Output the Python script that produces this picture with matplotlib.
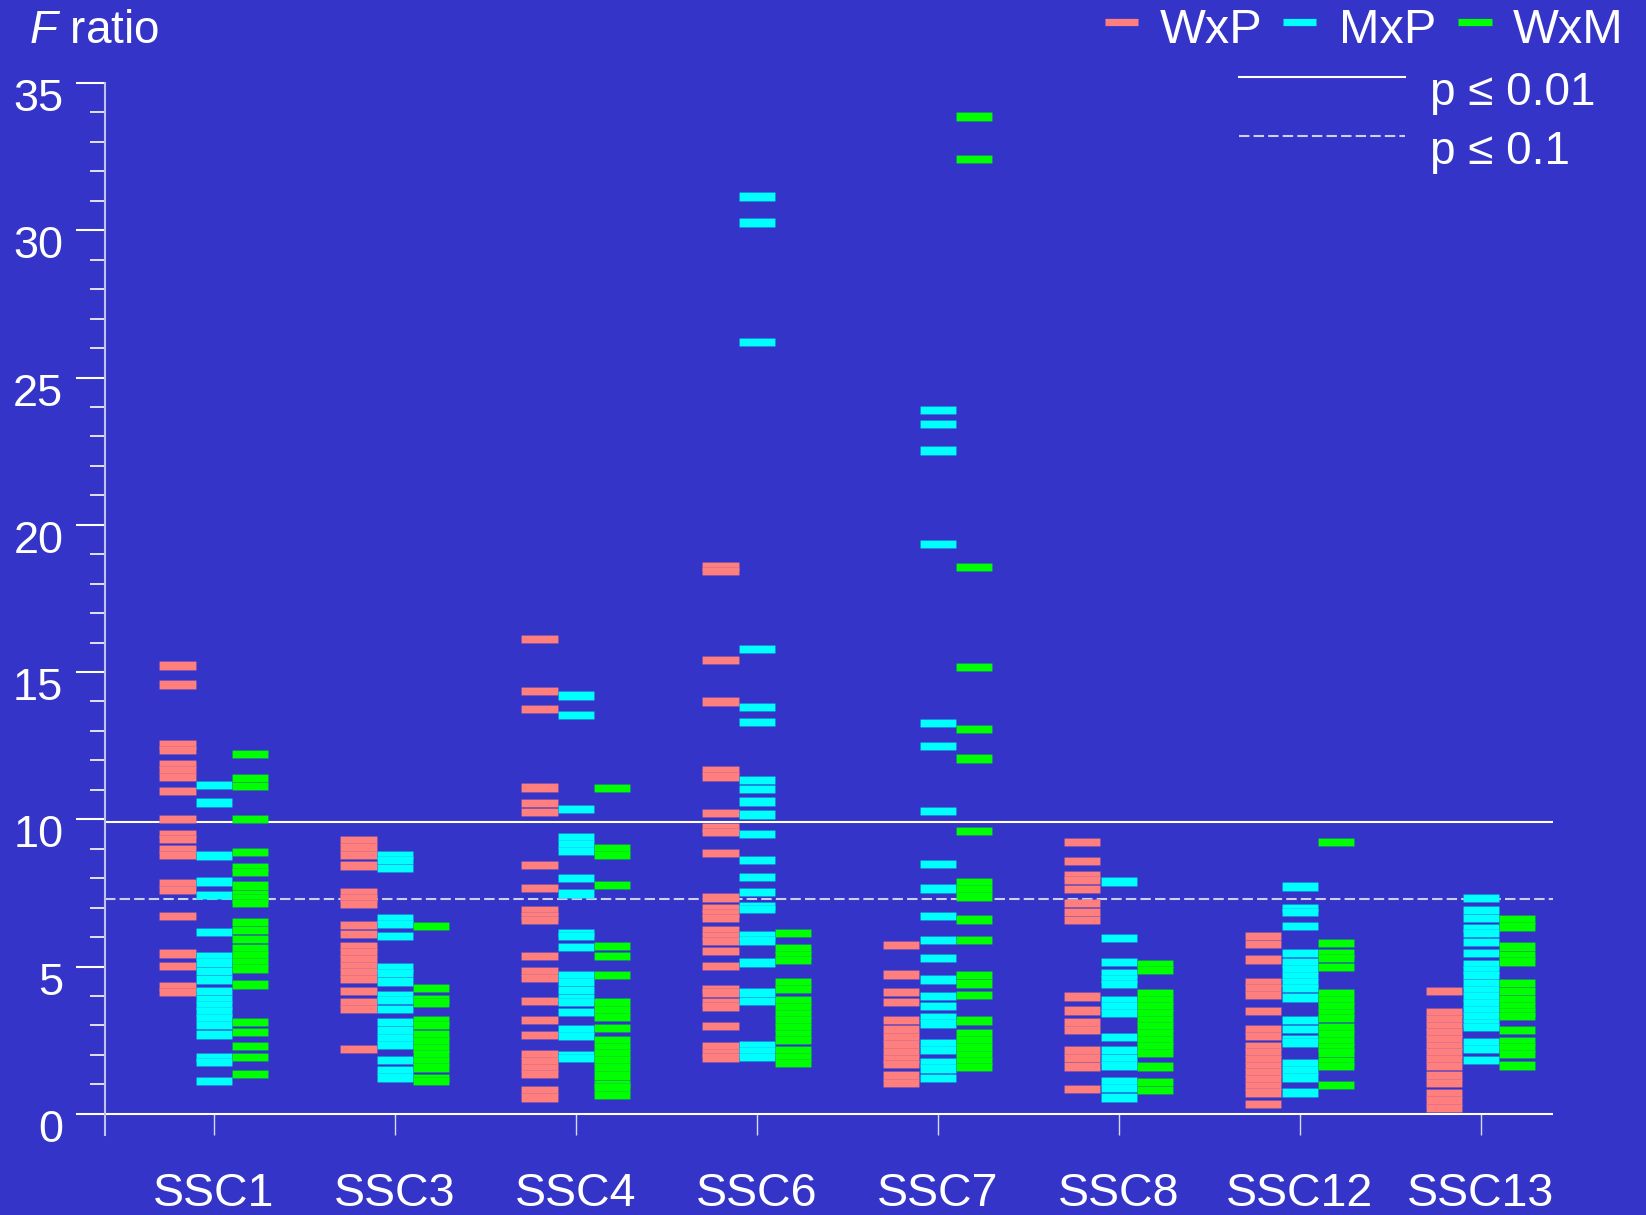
import matplotlib
matplotlib.use('Agg')
import matplotlib.pyplot as plt
from matplotlib.lines import Line2D
from matplotlib.transforms import ScaledTranslation
import numpy as np

# categories
groups = ['SSC1', 'SSC3', 'SSC4', 'SSC6', 'SSC7', 'SSC8', 'SSC12', 'SSC13']

# F ratios per group, WxP cross
wxp = [
    [15.22, 14.58, 12.54, 12.36, 11.88, 11.68, 11.44, 10.95, 10.0, 9.49, 9.33, 8.98, 8.78, 7.84, 7.59,
     6.71, 5.44, 5.02, 4.32, 4.13],
    [9.30, 9.04, 8.79, 8.43, 7.51, 7.32, 7.13, 6.42, 6.10, 5.70, 5.48, 5.25, 5.02, 4.80, 4.57, 4.16,
     3.78, 3.55, 2.20],
    [16.12, 14.35, 13.75, 11.08, 10.55, 10.26, 8.45, 7.67, 6.90, 6.72, 6.59, 5.37, 4.83, 4.61, 3.83,
     3.18, 2.67, 2.01, 1.79, 1.56, 1.35, 0.80, 0.55],
    [18.58, 18.42, 15.41, 14.00, 11.68, 11.45, 10.21, 9.72, 9.57, 8.85, 7.34, 7.00, 6.81, 6.64, 6.25,
     6.04, 5.87, 5.52, 5.03, 4.24, 4.12, 3.79, 3.64, 2.99, 2.29, 2.06, 1.91],
    [5.72, 4.73, 4.14, 3.80, 3.19, 2.86, 2.60, 2.35, 2.10, 1.85, 1.68, 1.30, 1.05],
    [9.23, 8.58, 8.11, 7.94, 7.63, 7.15, 6.85, 6.59, 3.98, 3.51, 3.10, 2.85, 2.15, 1.89, 1.61, 0.83],
    [6.03, 5.76, 5.24, 4.48, 4.26, 4.03, 3.49, 2.87, 2.65, 2.31, 2.08, 1.86, 1.63, 1.40, 1.18, 0.95,
     0.72, 0.33],
    [4.18, 3.44, 3.21, 2.99, 2.76, 2.54, 2.31, 2.08, 1.86, 1.63, 1.30, 1.04, 0.70, 0.45, 0.20],
]

# MxP cross
mxp = [
    [11.16, 10.57, 8.77, 7.89, 7.43, 6.17, 5.36, 5.14, 4.85, 4.56, 4.18, 3.89, 3.70, 3.47, 3.25, 3.02,
     2.69, 1.91, 1.75, 1.11],
    [8.80, 8.63, 8.35, 6.64, 6.45, 6.04, 4.97, 4.78, 4.49, 4.02, 3.87, 3.55, 3.12, 2.83, 2.56, 2.34,
     1.82, 1.48, 1.23],
    [14.20, 13.54, 10.35, 9.39, 9.16, 8.93, 8.01, 7.48, 6.15, 6.04, 5.66, 4.71, 4.48, 4.20, 3.93, 3.80,
     3.46, 2.87, 2.65, 2.00, 1.89],
    [31.15, 30.26, 26.20, 15.78, 13.82, 13.30, 11.34, 11.03, 10.60, 10.16, 9.51, 8.61, 8.04, 7.53, 7.06,
     6.95, 6.05, 5.88, 5.14, 4.12, 3.83, 2.32, 2.13, 1.92],
    [23.89, 23.43, 22.52, 19.34, 13.27, 12.49, 10.28, 8.49, 7.65, 6.71, 5.90, 5.30, 4.56, 4.00, 3.66,
     3.28, 3.07, 2.40, 2.16, 1.77, 1.54, 1.21],
    [7.89, 5.98, 5.15, 4.79, 4.57, 4.40, 3.86, 3.64, 3.42, 2.62, 2.16, 1.88, 1.64, 1.12, 0.87, 0.55],
    [7.72, 7.00, 6.86, 6.38, 5.45, 5.14, 4.91, 4.68, 4.46, 4.27, 3.95, 3.19, 2.87, 2.55, 2.42, 1.72,
     1.49, 1.23, 0.72],
    [7.32, 6.92, 6.66, 6.32, 6.13, 5.83, 5.45, 5.08, 4.89, 4.72, 4.44, 4.21, 3.98, 3.76, 3.53, 3.30,
     3.08, 2.94, 2.43, 2.20, 1.82],
]

# WxM cross
wxm = [
    [12.21, 11.39, 11.13, 10.02, 8.90, 8.38, 8.20, 7.75, 7.47, 7.31, 7.15, 6.52, 6.24, 5.93, 5.61, 5.39,
     5.16, 4.93, 4.39, 3.12, 2.78, 2.29, 1.93, 1.35],
    [6.38, 4.27, 3.90, 3.78, 3.17, 3.02, 2.69, 2.47, 2.24, 2.01, 1.79, 1.57, 1.21, 1.11],
    [11.07, 9.02, 8.78, 7.77, 5.71, 5.37, 4.71, 3.78, 3.53, 3.29, 2.92, 2.50, 2.27, 2.05, 1.83, 1.57,
     1.30, 1.01, 0.89, 0.63],
    [6.14, 5.61, 5.40, 5.23, 4.46, 4.23, 3.85, 3.62, 3.39, 3.17, 2.94, 2.72, 2.51, 2.16, 1.92, 1.72],
    [33.86, 32.43, 18.57, 15.17, 13.06, 12.06, 9.60, 7.88, 7.62, 7.38, 6.60, 5.90, 4.70, 4.42, 4.03,
     3.17, 2.75, 2.50, 2.25, 2.00, 1.80, 1.60],
    [5.08, 4.89, 4.10, 3.87, 3.64, 3.42, 3.19, 2.96, 2.74, 2.51, 2.29, 2.06, 1.61, 1.08, 0.81],
    [9.24, 5.80, 5.45, 5.29, 4.99, 4.10, 3.87, 3.64, 3.42, 3.25, 2.93, 2.71, 2.48, 2.25, 2.08, 1.80,
     1.63, 0.98],
    [6.60, 6.36, 5.68, 5.40, 5.17, 4.45, 4.16, 3.89, 3.67, 3.44, 3.31, 2.85, 2.48, 2.25, 2.03, 1.64],
]

series_names = ['WxP', 'MxP', 'WxM']
f_crit_001 = 9.92   # p <= 0.01
f_crit_01 = 7.31    # p <= 0.1

plt.rcParams['font.family'] = ['Liberation Sans', 'DejaVu Sans']
plt.rcParams['mathtext.fontset'] = 'custom'
plt.rcParams['mathtext.it'] = 'Liberation Sans:italic'
plt.rcParams['mathtext.rm'] = 'Liberation Sans'

bg = '#3434C8'
colors = ['#FF7F7F', '#00FFFF', '#00FF00']
offsets = [-0.2, 0.0, 0.2]
W, H = 1646, 1215

fig = plt.figure(figsize=(W / 100, H / 100), dpi=100, facecolor=bg)
ax = fig.add_axes([105 / W, 80 / H, (1553 - 105) / W, (1135 - 83) / H])
ax.set_facecolor(bg)

bar_h = 0.28
edge = (0.2, 0.2, 0.78, 0.16)
for data, col, off in zip([wxp, mxp, wxm], colors, offsets):
    for i, vals in enumerate(data):
        v = np.asarray(vals)
        ax.bar(np.full(len(v), i + 1 + off), bar_h, width=0.2, bottom=v - bar_h / 2,
               color=col, edgecolor=edge, linewidth=0.6, zorder=3)

# reference lines
ax.axhline(0, color='white', lw=1.5, zorder=2)
ax.axhline(f_crit_001, color='white', lw=1.5, zorder=2)
ax.axhline(f_crit_01, color='#CFCFF2', lw=1.5, dashes=(5, 2), zorder=2)

ax.set_xlim(0.4, 8.4)
ax.set_ylim(-0.72, 35)

ax.set_yticks(range(0, 36, 5))
ax.set_yticks(range(0, 36), minor=True)
ax.set_xticks(range(1, 9))
ax.set_xticklabels(groups)
ax.tick_params(axis='y', which='major', length=21, width=1.5, color='white',
               labelsize=32.5, labelcolor='white', pad=9)
ax.tick_params(axis='y', which='minor', length=11, width=1.2, color='white')
ax.tick_params(axis='x', direction='in', length=15, width=1, color='#D8D8F4',
               labelsize=33.5, labelcolor='white', pad=27)

for s in ['top', 'right', 'bottom']:
    ax.spines[s].set_visible(False)
ax.spines['left'].set_color('#C0C0EC')
ax.spines['left'].set_linewidth(1.5)

shift = ScaledTranslation(0, -0.12, fig.dpi_scale_trans)
for lab in ax.get_yticklabels():
    lab.set_transform(lab.get_transform() + shift)

# axis title
fig.text(29 / W, 1 - 43 / H, r'$F$ ratio', color='white', size=33, va='baseline')

# legend, series
seg_x = [(1105, 1138), (1283, 1316), (1458, 1492)]
txt_x = [1160, 1339, 1513]
for (x0, x1), tx, col, name in zip(seg_x, txt_x, colors, series_names):
    fig.add_artist(Line2D([x0 / W, x1 / W], [1 - 21.5 / H] * 2, color=col, lw=5.2,
                          solid_capstyle='butt', transform=fig.transFigure))
    fig.text(tx / W, 1 - 43 / H, name, color='white', size=35, va='baseline')

# legend, significance lines
fig.add_artist(Line2D([1239 / W, 1405 / W], [1 - 77 / H] * 2, color='white', lw=1.5,
                      transform=fig.transFigure))
fig.text(1430 / W, 1 - 105 / H, 'p ≤ 0.01', color='white', size=33, va='baseline')
fig.add_artist(Line2D([1239 / W, 1405 / W], [1 - 136 / H] * 2, color='#CFCFF2', lw=1.5,
                      dashes=(5, 2), transform=fig.transFigure))
fig.text(1430 / W, 1 - 164 / H, 'p ≤ 0.1', color='white', size=33, va='baseline')

fig.savefig('out.png', dpi=100, facecolor=bg)
